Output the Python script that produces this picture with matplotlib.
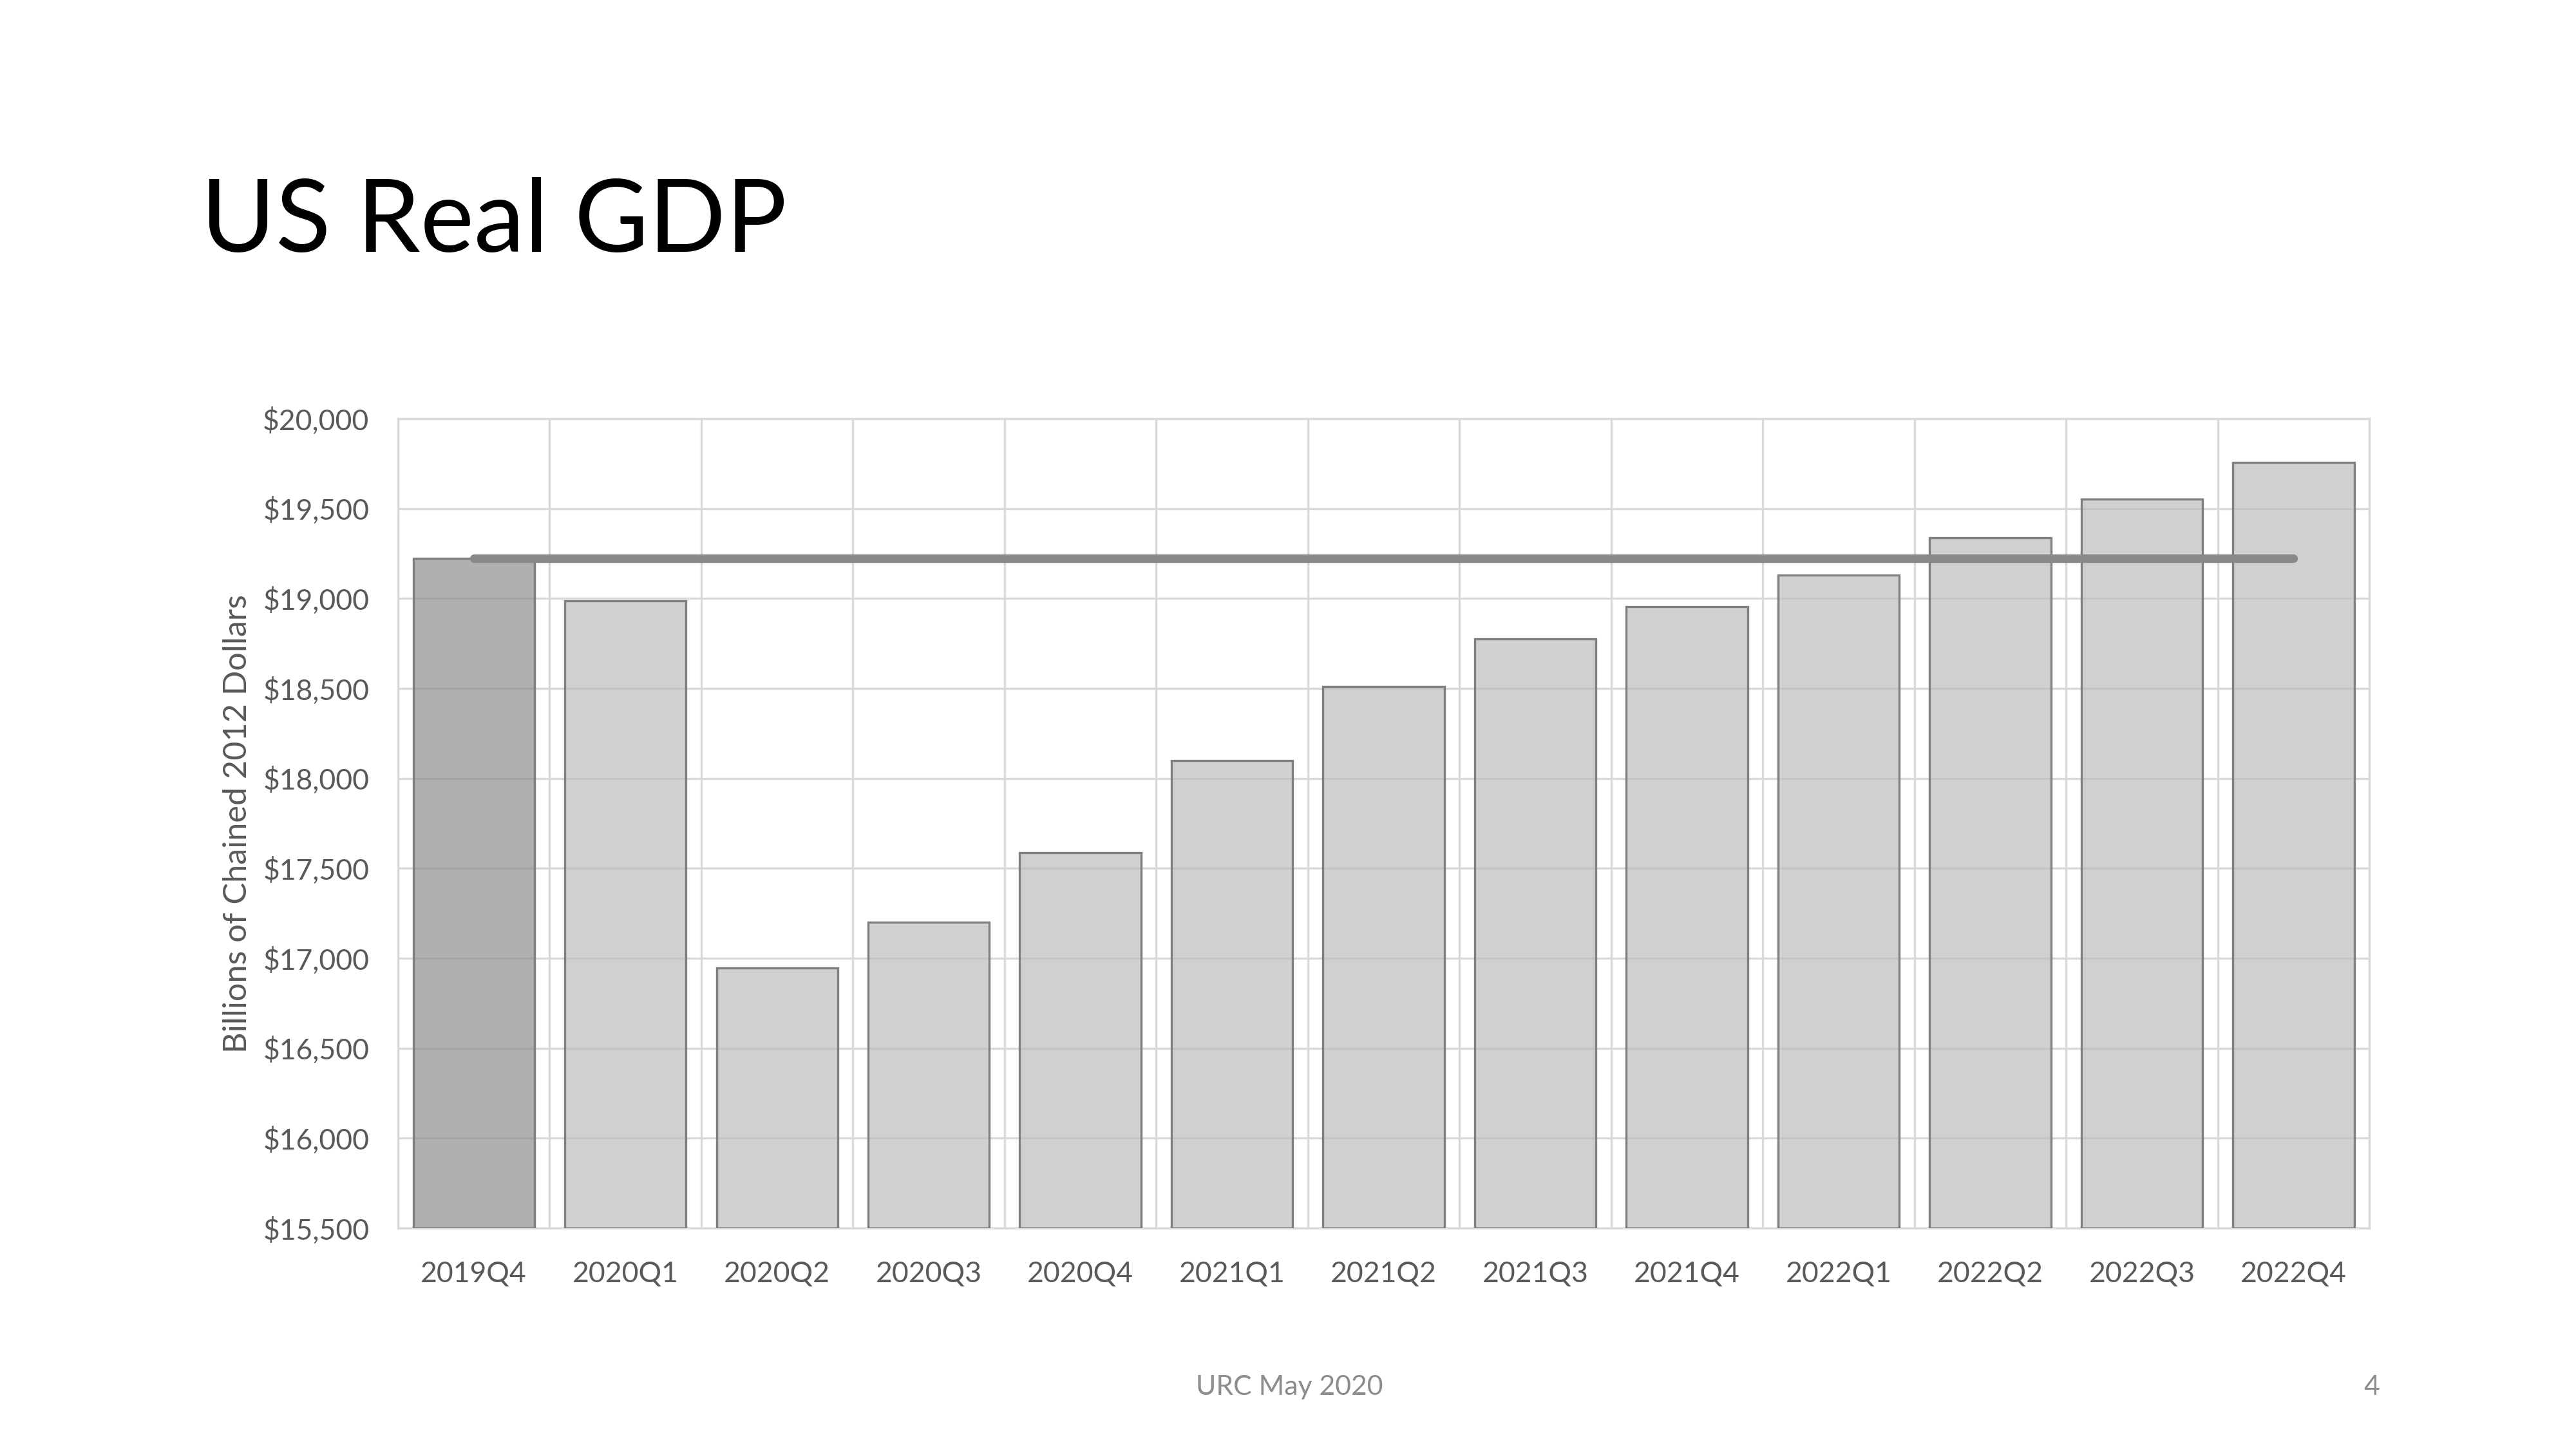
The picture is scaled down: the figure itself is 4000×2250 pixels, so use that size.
import matplotlib.pyplot as plt
from matplotlib.ticker import FuncFormatter, MultipleLocator
from matplotlib.colors import to_rgba
import numpy as np

quarters = ['2019Q4', '2020Q1', '2020Q2', '2020Q3', '2020Q4', '2021Q1', '2021Q2',
            '2021Q3', '2021Q4', '2022Q1', '2022Q2', '2022Q3', '2022Q4']
gdp = [19222, 18987, 16945, 17200, 17588, 18100, 18510,
       18775, 18955, 19132, 19338, 19553, 19755]
pre_covid_level = 19222

plt.rcParams['font.family'] = ['Lato', 'DejaVu Sans']

fig = plt.figure(figsize=(10, 5.625), dpi=400)
ax = fig.add_axes([0.1545, 0.1524, 0.7653, 0.5587])

x = np.arange(len(quarters))
# semi-transparent fills so the gridlines show through, like the original
colors = [to_rgba('#8b8b8b', 0.68)] + [to_rgba('#bababa', 0.68)] * (len(quarters) - 1)
ax.bar(x, [v - 15500 for v in gdp], bottom=15500, width=0.8, color=colors,
       edgecolor='#7f7f7f', linewidth=0.6, zorder=3)
ax.plot([x[0], x[-1]], [pre_covid_level, pre_covid_level], color='#898989',
        linewidth=2.4, solid_capstyle='round', zorder=4)

ax.set_xlim(-0.5, len(quarters) - 0.5)
ax.set_ylim(15500, 20000)
ax.yaxis.set_major_locator(MultipleLocator(500))
ax.yaxis.set_major_formatter(FuncFormatter(lambda v, p: '${:,.0f}'.format(v)))
ax.set_xticks(x)
ax.set_xticklabels(quarters)
ax.set_xticks(np.arange(-0.5, len(quarters), 1), minor=True)

ax.grid(True, which='major', axis='y', color='#d9d9d9', linewidth=0.6, zorder=0)
ax.grid(True, which='minor', axis='x', color='#d9d9d9', linewidth=0.6, zorder=0)
ax.set_axisbelow(True)
for s in ax.spines.values():
    s.set_color('#d9d9d9')
    s.set_linewidth(0.6)

ax.tick_params(axis='both', which='both', length=0, labelsize=8, labelcolor='#595959')
ax.tick_params(axis='y', pad=8)
ax.tick_params(axis='x', pad=9)
ax.set_ylabel('Billions of Chained 2012 Dollars', fontsize=9.1, color='#595959', labelpad=3)

fig.text(0.078, 0.826, 'US Real GDP', fontsize=28.4, fontweight='normal', color='black',
         ha='left', va='baseline')
fig.text(0.5005, 0.0425, 'URC May 2020', fontsize=7.7, color='#8c8c8c', ha='center', va='center')
fig.text(0.9238, 0.0425, '4', fontsize=7.7, color='#8c8c8c', ha='right', va='center')

plt.savefig('out.png', dpi=400, facecolor='white')
